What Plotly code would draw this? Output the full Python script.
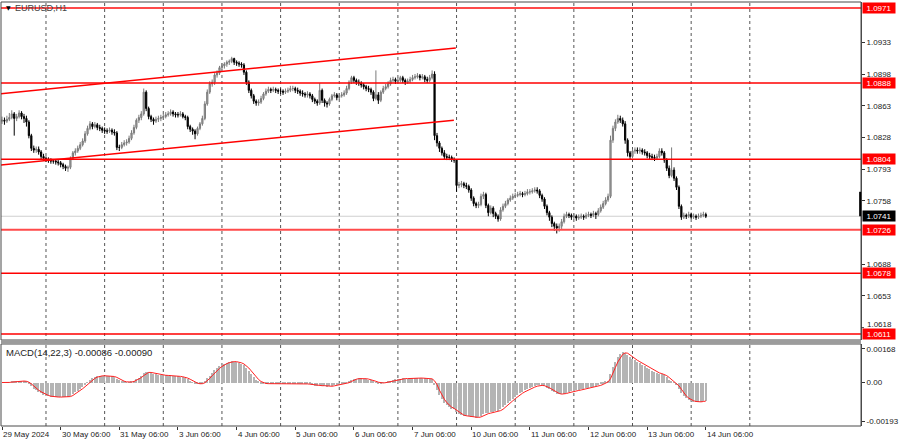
import numpy as np
import plotly.graph_objects as go

# ---------------- data (EURUSD H1, 29 May 06:00 .. 14 Jun 06:00) ----------------
first_open = 1.0846
closes = [
    1.0847,1.0846,1.0848,1.0850,1.0854,1.0849,1.0851,1.0855,1.0851,1.0849,1.0845,1.0830,1.0816,1.0814,1.0815,1.0812,1.0807,1.0805,1.0804,1.0803,1.0802,1.0802,1.0801,1.0800,
    1.0798,1.0796,1.0794,1.0795,1.0805,1.0811,1.0813,1.0816,1.0820,1.0824,1.0832,1.0838,1.0843,1.0840,1.0842,1.0839,1.0838,1.0836,1.0835,1.0835,1.0836,1.0834,1.0833,1.0817,
    1.0817,1.0820,1.0822,1.0823,1.0827,1.0833,1.0839,1.0847,1.0850,1.0854,1.0878,1.0860,1.0851,1.0848,1.0846,1.0848,1.0849,1.0850,1.0851,1.0853,1.0854,1.0856,1.0854,1.0853,
    1.0853,1.0854,1.0851,1.0850,1.0840,1.0837,1.0835,1.0832,1.0838,1.0843,1.0849,1.0865,1.0878,1.0887,1.0889,1.0897,1.0899,1.0905,1.0907,1.0909,1.0911,1.0912,1.0915,1.0911,
    1.0910,1.0909,1.0908,1.0900,1.0889,1.0880,1.0874,1.0868,1.0866,1.0867,1.0871,1.0876,1.0879,1.0881,1.0880,1.0881,1.0880,1.0879,1.0879,1.0878,1.0879,1.0880,1.0882,1.0882,
    1.0880,1.0879,1.0877,1.0876,1.0875,1.0876,1.0874,1.0870,1.0868,1.0866,1.0880,1.0869,1.0866,1.0865,1.0870,1.0874,1.0875,1.0872,1.0874,1.0875,1.0877,1.0882,1.0889,1.0894,
    1.0891,1.0889,1.0888,1.0886,1.0884,1.0882,1.0881,1.0878,1.0871,1.0875,1.0869,1.0878,1.0882,1.0884,1.0887,1.0891,1.0892,1.0890,1.0891,1.0894,1.0891,1.0889,1.0890,1.0892,
    1.0894,1.0895,1.0896,1.0894,1.0895,1.0892,1.0891,1.0894,1.0898,1.0830,1.0822,1.0816,1.0811,1.0807,1.0806,1.0806,1.0804,1.0803,1.0775,1.0776,1.0777,1.0775,1.0774,1.0770,
    1.0761,1.0755,1.0753,1.0754,1.0763,1.0765,1.0753,1.0745,1.0750,1.0744,1.0741,1.0738,1.0748,1.0752,1.0755,1.0759,1.0761,1.0763,1.0764,1.0765,1.0766,1.0765,1.0766,1.0768,
    1.0768,1.0769,1.0770,1.0769,1.0764,1.0760,1.0752,1.0745,1.0740,1.0733,1.0730,1.0728,1.0730,1.0735,1.0741,1.0743,1.0742,1.0740,1.0741,1.0739,1.0740,1.0741,1.0740,1.0742,
    1.0743,1.0742,1.0744,1.0743,1.0747,1.0751,1.0755,1.0759,1.0763,1.0825,1.0838,1.0845,1.0849,1.0847,1.0843,1.0825,1.0811,1.0807,1.0813,1.0814,1.0813,1.0814,1.0812,1.0811,
    1.0808,1.0807,1.0806,1.0805,1.0807,1.0813,1.0811,1.0803,1.0794,1.0786,1.0792,1.0783,1.0773,1.0752,1.0740,1.0742,1.0741,1.0743,1.0740,1.0741,1.0740,1.0741,1.0742,1.0743,1.0741,
]
highs = [
    1.0851,1.0850,1.0852,1.0855,1.0858,1.0856,1.0854,1.0858,1.0857,1.0854,1.0852,1.0847,1.0832,1.0819,1.0818,1.0818,1.0814,1.0810,1.0807,1.0806,1.0805,1.0804,1.0804,1.0803,
    1.0802,1.0800,1.0798,1.0797,1.0807,1.0813,1.0816,1.0819,1.0823,1.0827,1.0835,1.0841,1.0846,1.0845,1.0845,1.0844,1.0842,1.0840,1.0839,1.0838,1.0839,1.0838,1.0837,1.0835,
    1.0820,1.0823,1.0825,1.0826,1.0830,1.0836,1.0842,1.0849,1.0853,1.0857,1.0882,1.0880,1.0862,1.0853,1.0850,1.0851,1.0852,1.0853,1.0854,1.0856,1.0857,1.0859,1.0858,1.0856,
    1.0856,1.0857,1.0856,1.0853,1.0852,1.0842,1.0839,1.0837,1.0840,1.0845,1.0852,1.0868,1.0881,1.0890,1.0892,1.0899,1.0902,1.0907,1.0910,1.0911,1.0913,1.0914,1.0917,1.0916,
    1.0913,1.0912,1.0911,1.0910,1.0902,1.0891,1.0882,1.0876,1.0870,1.0870,1.0874,1.0878,1.0882,1.0884,1.0883,1.0884,1.0883,1.0882,1.0882,1.0881,1.0882,1.0883,1.0885,1.0885,
    1.0884,1.0883,1.0881,1.0880,1.0878,1.0879,1.0878,1.0876,1.0872,1.0870,1.0888,1.0882,1.0871,1.0868,1.0872,1.0876,1.0878,1.0877,1.0877,1.0878,1.0880,1.0885,1.0891,1.0896,
    1.0896,1.0893,1.0892,1.0890,1.0888,1.0886,1.0885,1.0883,1.0880,1.0902,1.0878,1.0880,1.0885,1.0887,1.0890,1.0894,1.0895,1.0894,1.0894,1.0896,1.0896,1.0893,1.0893,1.0895,
    1.0897,1.0898,1.0899,1.0898,1.0898,1.0897,1.0895,1.0897,1.0902,1.0901,1.0833,1.0824,1.0818,1.0814,1.0810,1.0809,1.0808,1.0806,1.0804,1.0779,1.0780,1.0779,1.0778,1.0776,
    1.0772,1.0763,1.0757,1.0757,1.0766,1.0768,1.0767,1.0755,1.0753,1.0752,1.0746,1.0743,1.0751,1.0755,1.0758,1.0761,1.0764,1.0766,1.0767,1.0768,1.0769,1.0768,1.0769,1.0771,
    1.0771,1.0772,1.0773,1.0773,1.0771,1.0766,1.0762,1.0754,1.0747,1.0742,1.0735,1.0733,1.0733,1.0738,1.0744,1.0746,1.0745,1.0744,1.0744,1.0743,1.0743,1.0744,1.0743,1.0745,
    1.0746,1.0745,1.0747,1.0746,1.0750,1.0754,1.0758,1.0762,1.0766,1.0830,1.0841,1.0848,1.0853,1.0852,1.0850,1.0846,1.0827,1.0813,1.0815,1.0817,1.0817,1.0817,1.0816,1.0815,
    1.0813,1.0811,1.0810,1.0809,1.0810,1.0816,1.0816,1.0813,1.0805,1.0797,1.0817,1.0795,1.0785,1.0775,1.0754,1.0745,1.0744,1.0746,1.0745,1.0744,1.0743,1.0744,1.0745,1.0746,1.0745,
]
lows = [
    1.0843,1.0842,1.0844,1.0846,1.0848,1.0830,1.0846,1.0849,1.0848,1.0844,1.0840,1.0827,1.0813,1.0811,1.0811,1.0809,1.0804,1.0802,1.0801,1.0800,1.0799,1.0799,1.0798,1.0797,
    1.0795,1.0793,1.0791,1.0790,1.0793,1.0803,1.0808,1.0811,1.0814,1.0818,1.0822,1.0830,1.0836,1.0837,1.0838,1.0836,1.0835,1.0833,1.0832,1.0832,1.0833,1.0831,1.0830,1.0814,
    1.0813,1.0815,1.0818,1.0819,1.0821,1.0825,1.0831,1.0837,1.0844,1.0847,1.0852,1.0857,1.0848,1.0845,1.0842,1.0844,1.0845,1.0846,1.0848,1.0849,1.0851,1.0852,1.0851,1.0850,
    1.0850,1.0851,1.0849,1.0847,1.0837,1.0834,1.0831,1.0826,1.0830,1.0836,1.0841,1.0847,1.0863,1.0876,1.0884,1.0886,1.0894,1.0897,1.0903,1.0904,1.0906,1.0908,1.0910,1.0908,
    1.0907,1.0906,1.0905,1.0897,1.0886,1.0877,1.0871,1.0865,1.0863,1.0863,1.0865,1.0869,1.0874,1.0877,1.0877,1.0878,1.0877,1.0876,1.0876,1.0875,1.0876,1.0877,1.0878,1.0879,
    1.0877,1.0876,1.0874,1.0873,1.0872,1.0872,1.0871,1.0867,1.0865,1.0863,1.0864,1.0866,1.0862,1.0861,1.0863,1.0868,1.0872,1.0869,1.0870,1.0872,1.0873,1.0875,1.0880,1.0887,
    1.0888,1.0886,1.0885,1.0883,1.0881,1.0879,1.0878,1.0875,1.0868,1.0869,1.0865,1.0867,1.0876,1.0880,1.0882,1.0885,1.0889,1.0887,1.0888,1.0889,1.0888,1.0886,1.0887,1.0888,
    1.0890,1.0892,1.0893,1.0891,1.0892,1.0889,1.0888,1.0889,1.0892,1.0825,1.0818,1.0812,1.0808,1.0804,1.0803,1.0803,1.0801,1.0800,1.0768,1.0772,1.0773,1.0772,1.0771,1.0767,
    1.0758,1.0752,1.0750,1.0750,1.0752,1.0760,1.0750,1.0741,1.0743,1.0740,1.0738,1.0735,1.0736,1.0746,1.0750,1.0753,1.0757,1.0759,1.0761,1.0762,1.0763,1.0762,1.0763,1.0764,
    1.0765,1.0766,1.0767,1.0766,1.0761,1.0757,1.0749,1.0742,1.0736,1.0729,1.0725,1.0722,1.0724,1.0727,1.0733,1.0739,1.0739,1.0737,1.0738,1.0736,1.0737,1.0738,1.0737,1.0738,
    1.0740,1.0739,1.0740,1.0738,1.0741,1.0745,1.0749,1.0753,1.0757,1.0761,1.0822,1.0835,1.0843,1.0844,1.0840,1.0821,1.0807,1.0804,1.0805,1.0810,1.0810,1.0810,1.0809,1.0808,
    1.0805,1.0804,1.0803,1.0802,1.0803,1.0805,1.0808,1.0800,1.0791,1.0783,1.0784,1.0780,1.0770,1.0749,1.0737,1.0738,1.0738,1.0739,1.0738,1.0738,1.0737,1.0738,1.0739,1.0740,1.0739,
]

x_labels = ["29 May 2024", "30 May 06:00", "31 May 06:00", "3 Jun 06:00", "4 Jun 06:00",
            "5 Jun 06:00", "6 Jun 06:00", "7 Jun 06:00", "10 Jun 06:00", "11 Jun 06:00",
            "12 Jun 06:00", "13 Jun 06:00", "14 Jun 06:00"]
x_label_bars = [0, 24, 48, 72, 96, 120, 144, 168, 192, 216, 240, 264, 288]
day_sep_bars = [18, 42, 66, 90, 114, 138, 162, 186, 210, 234, 258, 282, 306]

price_ticks = [1.0933, 1.0898, 1.0863, 1.0828, 1.0793, 1.0758, 1.0688, 1.0653]
crowded_tick = 1.0618   # drawn separately, nudged just above the 1.0611 box
levels = [1.0971, 1.0888, 1.0804, 1.0726, 1.0678, 1.0611]
level_colors = ["#ff4a4a", "#ff0000", "#ff0000", "#ff4a4a", "#ff0000", "#ff0000"]
level_widths = [2, 1.5, 1.5, 2, 1.5, 1.5]
bid_price = 1.0741

upper_channel_x = [-0.8, 185.7]
upper_channel_y = [1.08762, 1.09267]
lower_channel_x = [-0.8, 184.9]
lower_channel_y = [1.07974, 1.08470]

macd_ticks = [0.00168, 0.0, -0.00193]
macd_ticktext = ["0.00168", "0.00", "-0.00193"]
macd_title = "MACD(14,22,3) -0.00086 -0.00090"

# ---------------- derived ----------------
n = len(closes)
bars = np.arange(n)
opens = [first_open] + closes[:-1]

def ema(x, period):
    a = 2.0 / (period + 1)
    out = np.empty(len(x))
    out[0] = x[0]
    for i in range(1, len(x)):
        out[i] = a * x[i] + (1 - a) * out[i - 1]
    return out

c = np.array(closes)
macd_main = ema(c, 14) - ema(c, 22)
macd_signal = np.convolve(macd_main, np.ones(3) / 3, mode="full")[:n]
macd_signal[:2] = macd_main[:2]

FONT = "Liberation Sans, Arial, sans-serif"
fig = go.Figure()

fig.add_trace(go.Candlestick(
    x=bars, open=opens, high=highs, low=lows, close=closes,
    increasing=dict(line=dict(color="#7a7a7a", width=1), fillcolor="#a8a8a8"),
    decreasing=dict(line=dict(color="#000000", width=1), fillcolor="#000000"),
    whiskerwidth=0, xaxis="x", yaxis="y", showlegend=False, hoverinfo="skip"))

fig.add_trace(go.Scatter(x=upper_channel_x, y=upper_channel_y, mode="lines",
                         line=dict(color="#ff0000", width=1.5), xaxis="x", yaxis="y",
                         showlegend=False, hoverinfo="skip"))
fig.add_trace(go.Scatter(x=lower_channel_x, y=lower_channel_y, mode="lines",
                         line=dict(color="#ff0000", width=1.5), xaxis="x", yaxis="y",
                         showlegend=False, hoverinfo="skip"))

fig.add_trace(go.Bar(x=bars, y=macd_main, width=0.55, marker=dict(color="#b4b4b4", line=dict(width=0)),
                     xaxis="x2", yaxis="y2", showlegend=False, hoverinfo="skip"))
fig.add_trace(go.Scatter(x=bars, y=macd_signal, mode="lines", line=dict(color="#ff2020", width=1),
                         xaxis="x2", yaxis="y2", showlegend=False, hoverinfo="skip"))

shapes = []
for b in day_sep_bars:
    shapes.append(dict(type="line", xref="x", yref="paper", x0=b, x1=b, y0=0, y1=1,
                       line=dict(color="#555555", width=1, dash="dot"), layer="below"))
shapes.append(dict(type="line", xref="paper", yref="y", x0=0, x1=1, y0=bid_price, y1=bid_price,
                   line=dict(color="#cfcfcf", width=1), layer="below"))
for lv, col, w in zip(levels, level_colors, level_widths):
    shapes.append(dict(type="line", xref="paper", yref="y", x0=0, x1=1, y0=lv, y1=lv,
                       line=dict(color=col, width=w)))

MAIN_DOM = [0.2028, 1.0]
MACD_DOM = [0.0, 0.1934]
for dom in (MAIN_DOM, MACD_DOM):
    shapes.append(dict(type="rect", xref="paper", yref="paper", x0=0, x1=1, y0=dom[0], y1=dom[1],
                       line=dict(color="#4a4a4a", width=1), fillcolor="rgba(0,0,0,0)"))
shapes.append(dict(type="rect", xref="paper", yref="paper", x0=0, x1=1, y0=MACD_DOM[1], y1=MAIN_DOM[0],
                   line=dict(width=0), fillcolor="#9c9c9c"))
shapes.append(dict(type="line", xref="paper", yref="y", x0=0.999, x1=0.999, y0=1.0741, y1=1.0768,
                   line=dict(color="#000000", width=2)))
# tick mark for the separately drawn label
shapes.append(dict(type="line", xref="paper", yref="y", x0=1, x1=1.0035, y0=crowded_tick, y1=crowded_tick,
                   line=dict(color="#333", width=1)))

annotations = []
for lab, b in zip(x_labels, x_label_bars):
    annotations.append(dict(text=lab, x=b - 0.35, xref="x2", y=0, yref="paper", xanchor="left",
                            yanchor="top", yshift=-2, showarrow=False,
                            font=dict(family=FONT, size=8, color="#222222")))
annotations.append(dict(text=f"{crowded_tick:.4f}", x=1, xref="paper", y=crowded_tick, yref="y",
                        xanchor="left", xshift=4, yshift=3, showarrow=False,
                        font=dict(family=FONT, size=8, color="#222")))
for lv in levels:
    annotations.append(dict(text=f"{lv:.4f}", x=1, xref="paper", y=lv, yref="y", xanchor="left",
                            xshift=1, showarrow=False, bgcolor="#ff0000", width=32, height=10,
                            borderpad=0, font=dict(family=FONT, size=8, color="#ffffff")))
annotations.append(dict(text=f"{bid_price:.4f}", x=1, xref="paper", y=bid_price, yref="y", xanchor="left",
                        xshift=1, showarrow=False, bgcolor="#000000", width=32, height=10,
                        borderpad=0, font=dict(family=FONT, size=8, color="#ffffff")))
annotations.append(dict(text="▼", x=0, xref="paper", y=1, yref="paper", xanchor="left", yanchor="top",
                        xshift=3, yshift=0, showarrow=False, font=dict(family="DejaVu Sans", size=6, color="#000")))
annotations.append(dict(text="EURUSD,H1", x=0, xref="paper", y=1, yref="paper", xanchor="left", yanchor="top",
                        xshift=12, yshift=1, showarrow=False, font=dict(family=FONT, size=9, color="#444")))
annotations.append(dict(text=macd_title, x=0, xref="paper", y=MACD_DOM[1], yref="paper", xanchor="left",
                        yanchor="top", xshift=3, yshift=-1, showarrow=False,
                        font=dict(family=FONT, size=9.5, color="#222")))

xr = [-0.41, 351.5]
fig.update_layout(
    width=900, height=441, autosize=False,
    margin=dict(l=1, r=35, t=2, b=15),
    paper_bgcolor="white", plot_bgcolor="white",
    bargap=0, showlegend=False,
    xaxis=dict(domain=[0, 1], range=xr, anchor="y", showticklabels=False, showgrid=False,
               zeroline=False, rangeslider=dict(visible=False), fixedrange=True),
    xaxis2=dict(domain=[0, 1], range=xr, anchor="y2", matches="x", showticklabels=False,
                showgrid=False, zeroline=False, tickvals=x_label_bars, ticks="outside",
                ticklen=3, tickcolor="#333"),
    yaxis=dict(domain=MAIN_DOM, range=[1.06044, 1.09775], side="right", tickvals=price_ticks,
               ticktext=[f"{t:.4f}" for t in price_ticks], ticks="outside", ticklen=3,
               tickcolor="#333", showgrid=False, zeroline=False, showline=True, linecolor="#4a4a4a",
               tickfont=dict(family=FONT, size=8, color="#222")),
    yaxis2=dict(domain=MACD_DOM, range=[-0.00218, 0.00193], side="right", tickvals=macd_ticks,
                ticktext=macd_ticktext, ticks="outside", ticklen=3, tickcolor="#333",
                showgrid=False, zeroline=False, showline=True, linecolor="#4a4a4a",
                tickfont=dict(family=FONT, size=8, color="#222")),
    shapes=shapes, annotations=annotations,
)

fig.write_html("out.html", config={"displayModeBar": False},
               post_script="document.body.style.margin='0';")
